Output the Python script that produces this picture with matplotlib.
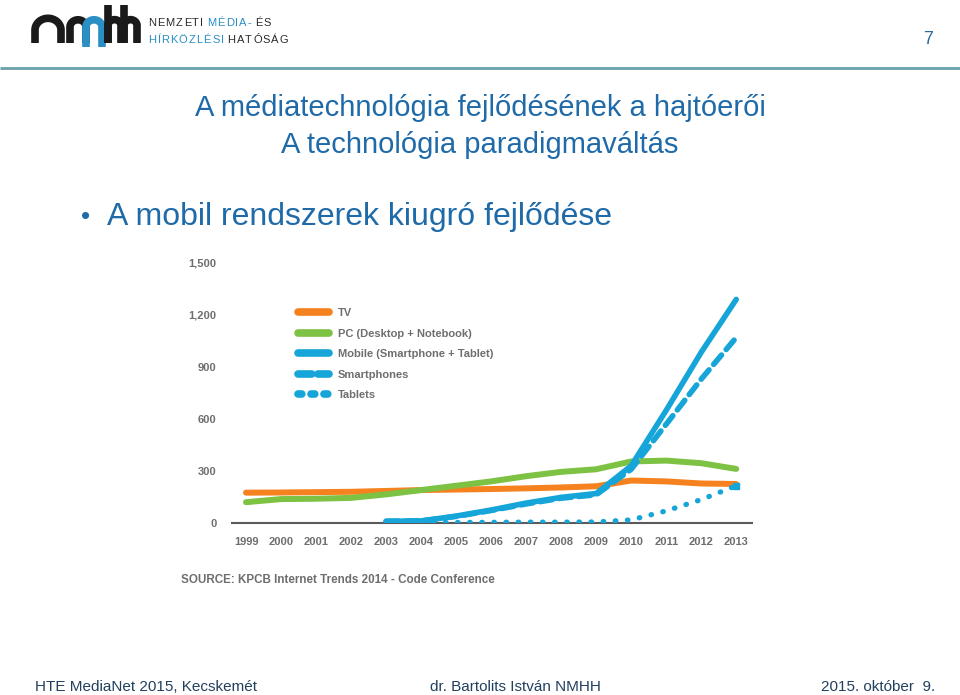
"""Dia 7 - a mobil rendszerek kiugró fejlődése (KPCB Internet Trends 2014)"""
import matplotlib
matplotlib.use('Agg')
import matplotlib.pyplot as plt
from matplotlib.lines import Line2D
import numpy as np

plt.rcParams['font.family'] = ['Liberation Sans', 'DejaVu Sans']

# Adatok (millió eszköz, leolvasva az ábráról)
years = list(range(1999, 2014))
tv = [175, 176, 178, 180, 185, 190, 193, 196, 200, 205, 212, 245, 240, 228, 225]
pc = [120, 138, 140, 145, 165, 190, 215, 240, 270, 295, 310, 355, 360, 345, 312]
mobile_years = list(range(2003, 2014))
mobile = [10, 12, 40, 75, 115, 148, 170, 330, 650, 985, 1290]
smartphones = [10, 12, 38, 72, 110, 143, 163, 310, 570, 830, 1070]
tablet_years = list(range(2004, 2014))
tablets = [2, 3, 4, 5, 5, 6, 18, 70, 135, 215]

y_ticks = [0, 300, 600, 900, 1200, 1500]
legend_labels = ['TV', 'PC (Desktop + Notebook)', 'Mobile (Smartphone + Tablet)',
                 'Smartphones', 'Tablets']

ORANGE = '#f5821f'
GREEN = '#7dc242'
BLUE = '#16a5d9'
GRAY = '#6e6e6e'
TITLE_BLUE = '#1f6aa8'
FOOT = '#22405e'

W, H = 960, 695
fig = plt.figure(figsize=(W / 100, H / 100), dpi=100)
renderer = fig.canvas.get_renderer()

# Háttér réteg pixel koordinátákkal (fejléc, logó)
bg = fig.add_axes([0, 0, 1, 1])
bg.set_xlim(0, W)
bg.set_ylim(H, 0)
bg.axis('off')

# fejléc alatti vonal
bg.plot([0, W], [68, 68], color='#6aa0aa', lw=2, solid_capstyle='butt')


def arch(x0, x1, y_top, y_bot, color, lw=5.5):
    """egy ív (n betű alakú) a logóhoz"""
    r = (x1 - x0) / 2
    t = np.linspace(np.pi, 0, 30)
    xs = np.concatenate([[x0], x0 + r + r * np.cos(t), [x1]])
    ys = np.concatenate([[y_bot], y_top + r - r * np.sin(t) * 0.9, [y_bot]])
    bg.plot(xs, ys, color=color, lw=lw, solid_capstyle='butt', solid_joinstyle='round')


def spaced(parts, x, y, track=1.1, size=8):
    """ritkított nagybetűs szöveg (több színnel) a logó mellett"""
    for word, color in parts:
        for ch in word:
            t = bg.text(x, y, ch, color=color, fontsize=size, ha='left', va='center')
            x += t.get_window_extent(renderer).width + track
        x += 3


# nmhh logó
arch(35, 61, 17, 43, '#1a1a1a')
arch(70, 86, 19, 43, '#1a1a1a')
arch(86, 102, 19, 47, '#2a8fc5')
bg.plot([108, 108], [5, 43], color='#1a1a1a', lw=5.5, solid_capstyle='butt')
arch(108, 121, 19, 43, '#1a1a1a')
bg.plot([124, 124], [5, 43], color='#1a1a1a', lw=5.5, solid_capstyle='butt')
arch(124, 137, 19, 43, '#1a1a1a')

spaced([('NEMZETI', '#2b2b2b'), ('MÉDIA-', '#2a8fc5'), ('ÉS', '#2b2b2b')], 148, 23)
spaced([('HÍRKÖZLÉSI', '#2a8fc5'), ('HATÓSÁG', '#2b2b2b')], 148, 40)

# oldalszám
bg.text(933, 40, '7', color='#2e6a9a', fontsize=13, ha='right', va='center')

# címek
bg.text(480, 108, 'A médiatechnológia fejlődésének a hajtóerői', color=TITLE_BLUE,
        fontsize=21, ha='center', va='center')
bg.text(480, 145, 'A technológia paradigmaváltás', color=TITLE_BLUE,
        fontsize=21, ha='center', va='center')
bg.text(81, 217, '•', color=TITLE_BLUE, fontsize=19, ha='left', va='center')
bg.text(107, 217, 'A mobil rendszerek kiugró fejlődése', color=TITLE_BLUE,
        fontsize=23, ha='left', va='center')

# forrás
bg.text(181, 580, 'SOURCE: KPCB Internet Trends 2014 - Code Conference', color=GRAY,
        fontsize=8.4, fontweight='bold', ha='left', va='center')

# lábléc
foot_kw = dict(fontsize=11, color=FOOT, va='center')
bg.text(35, 687, 'HTE MediaNet 2015, Kecskemét', ha='left', **foot_kw)
bg.text(430, 687, 'dr. Bartolits István NMHH', ha='left', **foot_kw)
bg.text(935, 687, '2015. október  9.', ha='right', **foot_kw)

# Diagram
ax = fig.add_axes([232 / W, 1 - 523 / H, (752 - 232) / W, (523 - 263) / H])
ax.set_xlim(1998.6, 2013.45)
ax.set_ylim(0, 1500)
ax.patch.set_alpha(0)

ax.plot(years, tv, color=ORANGE, lw=4.3, solid_capstyle='round', zorder=2)
ax.plot(years, pc, color=GREEN, lw=4.3, solid_capstyle='round', zorder=2)
ax.plot(tablet_years, tablets, color=BLUE, lw=3.8, linestyle=(0, (0.1, 2.2)),
        dash_capstyle='round', zorder=3)
ax.plot(tablet_years[-1:], tablets[-1:], 's', color=BLUE, ms=5, zorder=3)
ax.plot(mobile_years, smartphones, color=BLUE, lw=4, linestyle=(0, (2.2, 1.3)),
        dash_capstyle='round', zorder=3)
ax.plot(mobile_years, mobile, color=BLUE, lw=4, solid_capstyle='round', zorder=4)

for s in ['top', 'right', 'left']:
    ax.spines[s].set_visible(False)
ax.spines['bottom'].set_color('#5a5a5a')
ax.spines['bottom'].set_linewidth(1.5)

ax.set_xticks(years)
ax.set_xticklabels([str(y) for y in years])
ax.set_yticks(y_ticks)
ax.set_yticklabels([f'{v:,}' for v in y_ticks])
ax.tick_params(axis='both', length=0, colors=GRAY, labelsize=8)
ax.tick_params(axis='y', pad=11)
ax.tick_params(axis='x', pad=10)
for lab in ax.get_xticklabels() + ax.get_yticklabels():
    lab.set_fontweight('bold')

handles = [
    Line2D([], [], color=ORANGE, lw=5.5, solid_capstyle='round'),
    Line2D([], [], color=GREEN, lw=5.5, solid_capstyle='round'),
    Line2D([], [], color=BLUE, lw=5.5, solid_capstyle='round'),
    Line2D([], [], color=BLUE, lw=5.5, linestyle=(0, (1.8, 0.8)), dash_capstyle='round'),
    Line2D([], [], color=BLUE, lw=5.5, linestyle=(0, (0.5, 1.2)), dash_capstyle='round'),
]
leg = fig.legend(handles, legend_labels, loc='upper left',
                 bbox_to_anchor=(298 / W, 1 - 308 / H), frameon=False,
                 fontsize=8, handlelength=2.8, handletextpad=0.8,
                 labelspacing=0.95, borderpad=0, borderaxespad=0)
for t in leg.get_texts():
    t.set_color(GRAY)
    t.set_fontweight('bold')

fig.savefig('out.png', dpi=100)
plt.close(fig)
